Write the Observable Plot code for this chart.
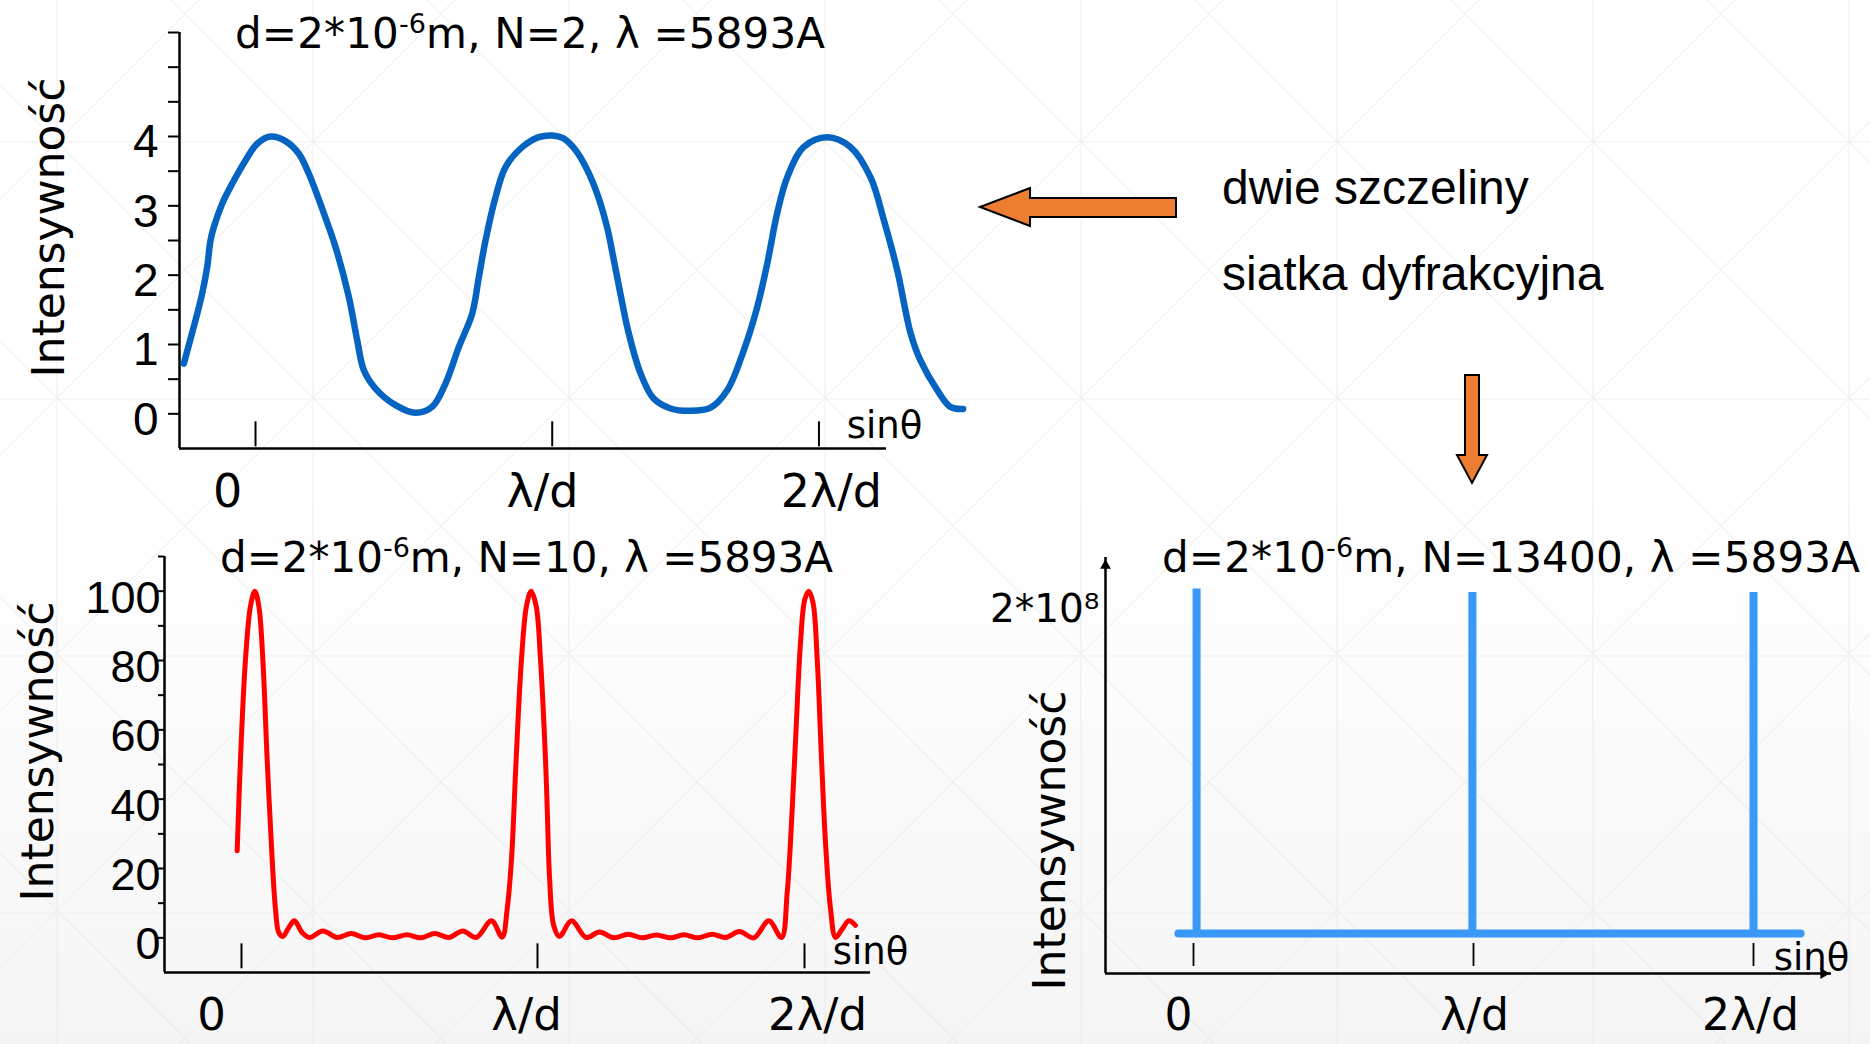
<!DOCTYPE html>
<html>
<head>
<meta charset="utf-8">
<script src="https://cdn.jsdelivr.net/npm/d3@7"></script>
<script src="https://cdn.jsdelivr.net/npm/@observablehq/plot@0.6"></script>
<style>
  html, body { margin: 0; padding: 0; background: #fff; }
  #stage { position: relative; width: 1870px; height: 1044px; overflow: hidden;
           background: linear-gradient(to bottom, #ffffff 0%, #ffffff 48%, #f5f5f5 100%); }
  .panel { position: absolute; }
  .panel svg { display: block; max-width: none !important; }
</style>
</head>
<body>
<div id="stage"></div>
<script>
// ================= DATA =================
// x in units of λ/d (sinθ), y = intensity

// Panel 1: two slits, N = 2
const n2X = [-0.2416, -0.2022, -0.1798, -0.1629, -0.1517, -0.1404, -0.1124, -0.0787, -0.0337, 0.0056,
             0.0506, 0.1011, 0.1461, 0.1798, 0.2247, 0.2697, 0.3146, 0.3427, 0.3652, 0.4045,
             0.4719, 0.5393, 0.5955, 0.6404, 0.6854, 0.7303, 0.7528, 0.7753, 0.809, 0.8427,
             0.8989, 0.9551, 1.0, 1.035, 1.07, 1.107, 1.152, 1.185, 1.208, 1.23,
             1.258, 1.298, 1.342, 1.399, 1.466, 1.534, 1.59, 1.646, 1.691, 1.725,
             1.758, 1.792, 1.848, 1.927, 2.005, 2.073, 2.118, 2.163, 2.208, 2.241,
             2.298, 2.342, 2.385];
const n2Y = [0.725, 1.35, 1.734, 2.118, 2.502, 2.694, 3.031, 3.319, 3.655, 3.895,
             4.0, 3.934, 3.751, 3.463, 2.959, 2.406, 1.686, 1.061, 0.629, 0.365,
             0.125, 0.014, 0.101, 0.437, 0.965, 1.446, 1.974, 2.502, 3.127, 3.559,
             3.847, 3.991, 4.015, 3.98, 3.85, 3.61, 3.17, 2.69, 2.21, 1.73,
             1.16, 0.58, 0.22, 0.077, 0.043, 0.09, 0.34, 0.92, 1.54, 2.17,
             2.89, 3.41, 3.85, 3.99, 3.85, 3.41, 2.79, 2.07, 1.16, 0.77,
             0.34, 0.1, 0.07];

// Panel 2: grating, N = 10
const n10X = [-0.0146, -0.0034, 0.0135, 0.0304, 0.045, 0.0586, 0.0721, 0.0867, 0.1036, 0.1149,
              0.1261, 0.1396, 0.16, 0.179, 0.205, 0.2297, 0.2748, 0.3232, 0.3705, 0.4189,
              0.464, 0.509, 0.5597, 0.6047, 0.6532, 0.7005, 0.7477, 0.7928, 0.8446, 0.8806,
              0.8975, 0.9122, 0.9279, 0.9459, 0.9628, 0.9786, 0.9955, 1.0101, 1.027, 1.033,
              1.0405, 1.055, 1.0743, 1.1149, 1.1644, 1.2095, 1.2579, 1.3063, 1.3536, 1.401,
              1.4493, 1.4944, 1.5417, 1.59, 1.635, 1.6824, 1.7308, 1.7815, 1.8243, 1.8435,
              1.8604, 1.874, 1.8885, 1.903, 1.9166, 1.931, 1.945, 1.9595, 1.973, 1.99,
              2.007, 2.029, 2.052, 2.074];
const n10Y = [25.1, 51.5, 80.3, 95.7, 100, 95.7, 80.3, 51.5, 22.7, 8.3,
              1.5, 0.4, 3.0, 4.9, 1.5, 0.1, 2.0, 0.1, 1.25, 0.0,
              0.9, 0.0, 0.9, 0.0, 1.25, 0.1, 2.0, 0.1, 4.9, 0.2,
              8.3, 22.7, 51.5, 80.3, 95.7, 100, 95.7, 80.3, 51.5, 37,
              17.9, 3.5, 0.4, 4.9, 0.1, 1.7, 0.0, 1.05, 0.0, 0.85,
              0.0, 0.9, 0.0, 1.05, 0.1, 1.8, 0.0, 4.9, 0.1, 13,
              37, 61, 85, 97.6, 100, 96.6, 80.3, 51.5, 27.5, 8.3,
              0.1, 2.5, 4.9, 3.6];

// Panel 3: grating, N = 13400
const n13400PeakX = [0.011, 0.996, 2.0];
const n13400PeakY = [2.02e8, 2.0e8, 2.0e8];
const n13400BaseX = [-0.054, 2.168];
const n13400BaseY = [0, 0];

// axis ticks / labels
const xTickLabels = ["0", "λ/d", "2λ/d"];
const tlXTicks = [0, 1, 1.899];
const tlXLabelPos = [-0.094, 0.967, 1.941];
const blXTicks = [0, 1, 1.902];
const blXLabelPos = [-0.101, 0.963, 1.946];
const brXTicks = [0, 1, 2];
const brXLabelPos = [-0.054, 1.004, 1.989];

const tlYTicks = [0, 0.5, 1, 1.5, 2, 2.5, 3, 3.5, 4, 4.5, 5, 5.5];
const tlYLabels = [0, 1, 2, 3, 4];
const blYTicks = [0, 10, 20, 30, 40, 50, 60, 70, 80, 90, 100, 110];
const blYLabels = [0, 20, 40, 60, 80, 100];
const brYLabel = "2*10⁸";

const yTitle = "Intensywność";
const xTitle = "sinθ";
const panelTitles = [
  {pre: "d=2*10", sup: "-6", post: "m, N=2, λ =5893A"},
  {pre: "d=2*10", sup: "-6", post: "m, N=10, λ =5893A"},
  {pre: "d=2*10", sup: "-6", post: "m, N=13400, λ =5893A"}
];
const sideTexts = ["dwie szczeliny", "siatka dyfrakcyjna"];

// ================= STYLE =================
const COMIC = "'DejaVu Sans', sans-serif";
const ARIAL = "'Liberation Sans', Arial, sans-serif";
const blueDark = "#0563c1";
const red = "#ff0000";
const blueLight = "#3a98f7";
const orange = "#ed7d31";
const intFmt = d => String(d);
const XLAB = 46, SIN = 37;

const stage = document.getElementById("stage");
function place(node, left, top, w, h) {
  const d = document.createElement("div");
  d.className = "panel";
  d.style.left = left + "px"; d.style.top = top + "px";
  d.style.width = w + "px"; d.style.height = h + "px";
  d.appendChild(node);
  stage.appendChild(d);
}

// ---------- faint background lattice ----------
{
  const svg = d3.create("svg").attr("width", 1870).attr("height", 1044);
  const g = svg.append("g").attr("stroke", "#e8e8e8").attr("stroke-width", 1.2).attr("fill", "none").attr("opacity", 0.6);
  for (let j = -1; j < 6; j++) g.append("line").attr("x1", 0).attr("x2", 1870).attr("y1", 142 + 257 * j).attr("y2", 142 + 257 * j);
  for (let i = -1; i < 9; i++) g.append("line").attr("y1", 0).attr("y2", 1044).attr("x1", 57 + 256 * i).attr("x2", 57 + 256 * i);
  for (let k = -12; k < 12; k++) {
    const b1 = 85 + 256 * k, b2 = 199 + 256 * k;
    g.append("line").attr("x1", -100).attr("y1", -100 + b1).attr("x2", 2000).attr("y2", 2000 + b1);
    g.append("line").attr("x1", -100).attr("y1", 100 + b2).attr("x2", 2000).attr("y2", -2000 + b2);
  }
  place(svg.node(), 0, 0, 1870, 1044);
}

const baseStyle = {background: "transparent", overflow: "visible", color: "black", fontFamily: COMIC};

// ---------- Panel 1 (top-left) ----------
{
  const xd = [-0.2562, 2.1267], yd = [-0.5, 5.5];
  const data = n2X.map((x, i) => ({x, y: n2Y[i]}));
  const p = Plot.plot({
    width: 1000, height: 520,
    marginLeft: 179, marginRight: 114, marginTop: 32, marginBottom: 72,
    x: {domain: xd, axis: null},
    y: {domain: yd, label: null},
    style: baseStyle,
    marks: [
      Plot.axisY(tlYTicks, {tickSize: 11, fill: "none", strokeWidth: 2, label: null}),
      Plot.axisY(tlYLabels, {tickSize: 11, tickPadding: 10, stroke: "none", dy: 6, fontSize: 46, fontFamily: ARIAL, tickFormat: intFmt, label: null}),
      Plot.ruleX([xd[0]], {strokeWidth: 2.5}),
      Plot.ruleY([yd[0]], {strokeWidth: 2.5}),
      Plot.ruleX(tlXTicks, {x: d => d, y1: -0.476, y2: -0.115, strokeWidth: 2}),
      Plot.line(data, {x: "x", y: "y", stroke: blueDark, strokeWidth: 6.5, curve: "catmull-rom"}),
      Plot.text(xTickLabels, {x: tlXLabelPos, text: d => d, frameAnchor: "bottom", lineAnchor: "middle", dy: 44, fontSize: XLAB}),
      Plot.text([xTitle], {frameAnchor: "bottom-right", textAnchor: "middle", lineAnchor: "middle", dx: -2, dy: -22, fontSize: SIN}),
      Plot.text([yTitle], {frameAnchor: "left", textAnchor: "middle", lineAnchor: "middle", rotate: -90, dx: -130, dy: -13, fontSize: 44})
    ]
  });
  place(p, 0, 0, 1000, 520);
}

// ---------- Panel 2 (bottom-left) ----------
{
  const xd = [-0.2601, 2.125], yd = [-10, 110];
  const data = n10X.map((x, i) => ({x, y: n10Y[i]}));
  const p = Plot.plot({
    width: 1000, height: 524,
    marginLeft: 164, marginRight: 130, marginTop: 36, marginBottom: 72,
    x: {domain: xd, axis: null},
    y: {domain: yd, label: null},
    style: baseStyle,
    marks: [
      Plot.axisY(blYTicks, {tickSize: 6, fill: "none", strokeWidth: 2, label: null}),
      Plot.axisY(blYLabels, {tickSize: 6, tickPadding: -2, stroke: "none", dy: 7, fontSize: 45, fontFamily: ARIAL, tickFormat: intFmt, label: null}),
      Plot.ruleX([xd[0]], {strokeWidth: 2.5}),
      Plot.ruleY([yd[0]], {strokeWidth: 2.5}),
      Plot.ruleX(blXTicks, {x: d => d, y1: -8.93, y2: -1.73, strokeWidth: 2}),
      Plot.line(data, {x: "x", y: "y", stroke: red, strokeWidth: 5, curve: "catmull-rom"}),
      Plot.text(xTickLabels, {x: blXLabelPos, text: d => d, frameAnchor: "bottom", lineAnchor: "middle", dy: 43, fontSize: 45}),
      Plot.text([xTitle], {frameAnchor: "bottom-right", textAnchor: "middle", lineAnchor: "middle", dx: 0, dy: -20, fontSize: SIN}),
      Plot.text([yTitle], {frameAnchor: "left", textAnchor: "middle", lineAnchor: "middle", rotate: -90, dx: -126, dy: -13, fontSize: 44})
    ]
  });
  place(p, 0, 520, 1000, 524);
}

// ---------- Panel 3 (bottom-right) ----------
{
  const xd = [-0.3143, 2.2786], yd = [-0.2346e8, 2.2053e8];
  const peaks = n13400PeakX.map((x, i) => ({x, y: n13400PeakY[i]}));
  const base = n13400BaseX.map((x, i) => ({x, y: n13400BaseY[i]}));
  const p = Plot.plot({
    width: 910, height: 524,
    marginLeft: 145, marginRight: 39, marginTop: 37, marginBottom: 71,
    x: {domain: xd, axis: null},
    y: {domain: yd, axis: null},
    style: baseStyle,
    marks: [
      Plot.ruleX([xd[0]], {strokeWidth: 2.5}),
      Plot.ruleY([yd[0]], {strokeWidth: 2.5}),
      Plot.dot([[xd[0], yd[1]]], {x: d => d[0], y: d => d[1], symbol: "triangle2", r: 5.2, fill: "black", dy: 8}),
      Plot.dot([[xd[1], yd[0]]], {x: d => d[0], y: d => d[1], symbol: "triangle2", r: 5.2, fill: "black", rotate: 90, dx: -8}),
      Plot.ruleX(brXTicks, {x: d => d, y1: -0.1935e8, y2: -0.0587e8, strokeWidth: 1.8}),
      Plot.line(base, {x: "x", y: "y", stroke: blueLight, strokeWidth: 8}),
      Plot.ruleX(peaks, {x: "x", y1: 0, y2: "y", stroke: blueLight, strokeWidth: 8}),
      Plot.text([brYLabel], {frameAnchor: "top-left", textAnchor: "end", lineAnchor: "middle", dx: -6, dy: 52, fontSize: 39}),
      Plot.text(xTickLabels, {x: brXLabelPos, text: d => d, frameAnchor: "bottom", lineAnchor: "middle", dy: 42, fontSize: 44}),
      Plot.text([xTitle], {frameAnchor: "bottom-right", textAnchor: "middle", lineAnchor: "middle", dx: -20, dy: -15, fontSize: SIN}),
      Plot.text([yTitle], {frameAnchor: "left", textAnchor: "middle", lineAnchor: "middle", rotate: -90, dx: -55, dy: 75, fontSize: 44})
    ]
  });
  place(p, 960, 520, 910, 524);
}

// ---------- overlay: titles, notes, arrows ----------
{
  const svg = d3.create("svg").attr("width", 1870).attr("height", 1044);
  const titlePos = [{x: 235, y: 48, w: 590}, {x: 220, y: 572, w: 613}, {x: 1162, y: 572, w: 698}];
  panelTitles.forEach((t, i) => {
    const pos = titlePos[i];
    const txt = svg.append("text").attr("x", pos.x).attr("y", pos.y)
      .attr("font-family", COMIC).attr("font-size", 42).attr("fill", "black")
      .attr("textLength", pos.w);
    txt.append("tspan").text(t.pre);
    txt.append("tspan").attr("dy", -15).attr("font-size", 27).text(t.sup);
    txt.append("tspan").attr("dy", 15).text(t.post);
  });
  svg.append("text").attr("x", 1222).attr("y", 204).attr("font-family", ARIAL).attr("font-size", 48).text(sideTexts[0]);
  svg.append("text").attr("x", 1222).attr("y", 290).attr("font-family", ARIAL).attr("font-size", 48).text(sideTexts[1]);
  // left-pointing arrow
  svg.append("polygon")
    .attr("points", "980,207 1030,188 1030,198 1176,198 1176,217 1030,217 1030,226")
    .attr("fill", orange).attr("stroke", "black").attr("stroke-width", 2).attr("stroke-linejoin", "miter");
  // down-pointing arrow
  svg.append("polygon")
    .attr("points", "1465,375 1479,375 1479,455 1487,455 1472,483 1457,455 1465,455")
    .attr("fill", orange).attr("stroke", "black").attr("stroke-width", 2).attr("stroke-linejoin", "miter");
  const d = document.createElement("div");
  d.className = "panel"; d.style.left = "0px"; d.style.top = "0px"; d.style.pointerEvents = "none";
  d.appendChild(svg.node());
  stage.appendChild(d);
}
</script>
</body>
</html>
